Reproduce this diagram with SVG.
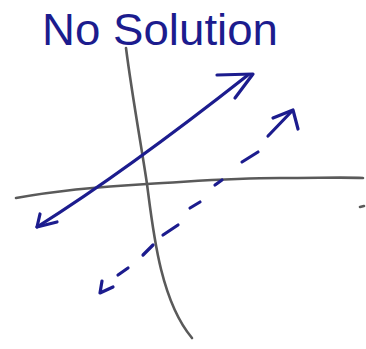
<svg xmlns="http://www.w3.org/2000/svg" width="366" height="349" viewBox="0 0 366 349">
<style>
.ink{fill:none;stroke:#1c1c8e;stroke-width:3.2;stroke-linecap:round;stroke-linejoin:round}
.axis{fill:none;stroke:#5a5a5a;stroke-width:2.6;stroke-linecap:round;stroke-linejoin:round}
.title{font-family:"Liberation Sans","DejaVu Sans",sans-serif;font-size:44px;fill:#1c1c8e}
</style>
<rect width="366" height="349" fill="#ffffff"/>
<g id="title">
<text class="title" x="42" y="45" textLength="236" lengthAdjust="spacingAndGlyphs">No Solution</text>
</g>
<g id="axes">
<path class="axis" d="M126,48 C132,95 142,150 147,184 C153,230 160,300 192,338"/>
<path class="axis" d="M16,198 C60,190 110,186 147,184 C200,181 230,178 280,178 C320,178 345,177 363,178"/>
<path class="axis" d="M360,207 L364,206"/>
</g>
<g id="connectors">
<path class="ink" d="M37,227 C80,200 140,160 248,75"/>
<path class="ink" d="M217,75 L253,74 L235,98"/>
<path class="ink" d="M40,214 L37,227 L57,222"/>
<g id="dashed">
<path class="ink" d="M118,275 L128,268 M143,255 L153,245 M163,235 L178,225 M190,208 L200,202 M215,185 L222,180 M242,162 L258,152 M268,136 L292,111"/>
<path class="ink" d="M273,118 L293,110 L298,129"/>
<path class="ink" d="M102,281 L100,293 L113,287"/>
</g>
</g>
</svg>
